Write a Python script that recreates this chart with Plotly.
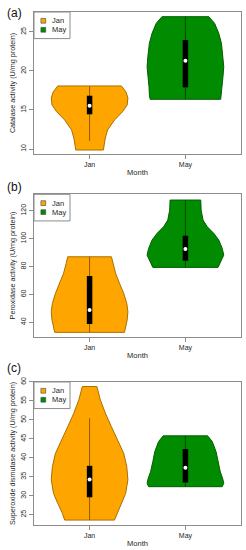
import plotly.graph_objects as go

# ---------------- data ----------------
months = ["Jan", "May"]
month_pos = [1, 2]

# (a) Catalase
cat_jan_y = [9.87, 11.41, 12.44, 13.72, 14.78, 15.64, 16.54, 17.31, 18.08]
cat_jan_dens = [0.36, 0.41, 0.47, 0.65, 0.86, 0.98, 1.0, 0.95, 0.83]
cat_may_y = [16.37, 16.92, 17.99, 19.27, 20.55, 21.83, 23.55, 24.83, 26.12, 26.96]
cat_may_dens = [0.92, 0.94, 0.95, 0.98, 1.0, 0.98, 0.94, 0.87, 0.76, 0.61]
cat_q1 = [14.45, 17.9]
cat_med = [15.55, 21.3]
cat_q3 = [16.83, 23.97]
cat_lo = [11.03, 16.37]
cat_hi = [18.04, 26.96]

# (b) Peroxidase
per_jan_y = [32.8, 37.3, 41.6, 47.6, 53.6, 60.8, 68.0, 75.1, 82.3, 87.0]
per_jan_dens = [0.91, 0.95, 0.98, 1.0, 0.97, 0.89, 0.78, 0.68, 0.61, 0.57]
per_may_y = [79.4, 83.4, 88.2, 93.0, 99.0, 103.8, 108.5, 113.3, 120.5, 127.7]
per_may_dens = [0.85, 0.92, 1.0, 0.96, 0.87, 0.74, 0.57, 0.46, 0.41, 0.40]
per_q1 = [38.8, 84.2]
per_med = [48.8, 92.5]
per_q3 = [73.2, 102.1]
per_lo = [32.8, 79.4]
per_hi = [87.0, 127.7]

# (c) Superoxide dismutase
sod_jan_y = [23.6, 25.4, 28.0, 30.6, 34.2, 37.7, 41.2, 44.7, 48.2, 51.8, 55.3, 58.8]
sod_jan_dens = [0.65, 0.71, 0.83, 0.94, 1.0, 0.97, 0.89, 0.74, 0.57, 0.41, 0.28, 0.19]
sod_may_y = [32.4, 33.3, 34.6, 36.3, 39.0, 41.6, 44.3, 45.8]
sod_may_dens = [0.96, 1.0, 0.97, 0.91, 0.85, 0.80, 0.70, 0.58]
sod_q1 = [29.6, 33.5]
sod_med = [34.3, 37.4]
sod_q3 = [37.9, 42.3]
sod_lo = [23.6, 32.4]
sod_hi = [50.4, 45.8]

y_titles = ["Catalase activity (U/mg protein)",
            "Peroxidase activity (U/mg protein)",
            "Superoxide dismutase activity (U/mg protein)"]
y_ranges = [[9.36, 27.56], [29.7, 131.8], [22.3, 60.0]]
y_ticks = [[10, 15, 20, 25], [40, 60, 80, 100, 120], [25, 30, 35, 40, 45, 50, 55, 60]]
panel_labels = ["(a)", "(b)", "(c)"]

# ---------------- styling ----------------
FILL = ["#FFA500", "#008B00"]
EDGE = ["#a87000", "#005f00"]
WHISK = ["#8a5a00", "#004a00"]
FONT = "Liberation Sans, Arial, sans-serif"
TXT = "#262626"
FRAME = "#8c8c8c"
HALF_MAX = 0.4
W, H = 246, 550
ML, MR, MT, MB = 34, 5, 12, 25
PH = H - MT - MB
PW = W - ML - MR

domains = [[0.7232, 1.0], [0.3671, 0.6446], [0.0, 0.2788]]
label_y = [0.998, 0.6589, 0.3055]

panels = [
    (cat_jan_y, cat_jan_dens, cat_may_y, cat_may_dens, cat_q1, cat_med, cat_q3, cat_lo, cat_hi),
    (per_jan_y, per_jan_dens, per_may_y, per_may_dens, per_q1, per_med, per_q3, per_lo, per_hi),
    (sod_jan_y, sod_jan_dens, sod_may_y, sod_may_dens, sod_q1, sod_med, sod_q3, sod_lo, sod_hi),
]

fig = go.Figure()
shapes = []
annotations = []

for p, (jy, jd, my, md, q1, med, q3, lo, hi) in enumerate(panels):
    sfx = "" if p == 0 else str(p + 1)
    xa, ya = "x" + sfx, "y" + sfx
    for i, (yy, dd) in enumerate([(jy, jd), (my, md)]):
        c = month_pos[i]
        xs = [c - HALF_MAX * d for d in dd] + [c + HALF_MAX * d for d in reversed(dd)]
        ys = list(yy) + list(reversed(yy))
        xs.append(xs[0]); ys.append(ys[0])
        fig.add_trace(go.Scatter(x=xs, y=ys, mode="lines", fill="toself",
                                 fillcolor=FILL[i], line=dict(color=EDGE[i], width=1),
                                 xaxis=xa, yaxis=ya, showlegend=False, hoverinfo="skip"))
        # whisker
        fig.add_trace(go.Scatter(x=[c, c], y=[lo[i], hi[i]], mode="lines",
                                 line=dict(color=WHISK[i], width=1),
                                 xaxis=xa, yaxis=ya, showlegend=False, hoverinfo="skip"))
        # inter-quartile box
        fig.add_trace(go.Scatter(x=[c, c], y=[q1[i], q3[i]], mode="lines",
                                 line=dict(color="black", width=5.5),
                                 xaxis=xa, yaxis=ya, showlegend=False, hoverinfo="skip"))
    fig.add_trace(go.Scatter(x=month_pos, y=med, mode="markers",
                             marker=dict(color="white", size=4, line=dict(width=0)),
                             xaxis=xa, yaxis=ya, showlegend=False, hoverinfo="skip"))

    axis_common = dict(showline=True, linecolor=FRAME, linewidth=1, mirror=True,
                       ticks="outside", ticklen=4, tickcolor=FRAME, tickwidth=1,
                       showgrid=False, zeroline=False, automargin=False,
                       tickfont=dict(family=FONT, size=7, color=TXT))
    fig.update_layout({
        "xaxis" + sfx: dict(axis_common, domain=[0, 1], anchor=ya,
                            range=[0.42, 2.58], tickvals=month_pos, ticktext=months,
                            title=dict(text="Month", font=dict(family=FONT, size=7.5, color=TXT),
                                       standoff=1)),
        "yaxis" + sfx: dict(axis_common, domain=domains[p], anchor=xa,
                            range=y_ranges[p], tickvals=y_ticks[p], tickangle=-90,
                            title=dict(text=y_titles[p], font=dict(family=FONT, size=7.2, color=TXT),
                                       standoff=3)),
    })

    # legend box in the top-left corner of each panel
    ph = (domains[p][1] - domains[p][0]) * PH
    xd, yd = xa + " domain", ya + " domain"
    shapes.append(dict(type="rect", xref=xd, yref=yd, x0=0, x1=36 / PW,
                       y0=1 - 26.6 / ph, y1=1, line=dict(color=FRAME, width=1),
                       fillcolor="white", layer="above"))
    for i, m in enumerate(months):
        cy = 1 - (8.8 + 9 * i) / ph
        cx = 9.3 / PW
        hs = 2.4
        shapes.append(dict(type="rect", xref=xd, yref=yd,
                           x0=cx - hs / PW, x1=cx + hs / PW,
                           y0=cy - hs / ph, y1=cy + hs / ph,
                           fillcolor=FILL[i], line=dict(color="#444444", width=0.6),
                           layer="above"))
        annotations.append(dict(xref=xd, yref=yd, x=16 / PW, y=cy, text=m,
                                showarrow=False, xanchor="left", yanchor="middle",
                                font=dict(family=FONT, size=7.5, color=TXT)))
    annotations.append(dict(xref="paper", yref="paper", x=(5 - ML) / PW, y=label_y[p],
                            text=panel_labels[p], showarrow=False, xanchor="left",
                            yanchor="middle", font=dict(family=FONT, size=12, color="#111111")))

fig.update_layout(template="none", width=W, height=H,
                  margin=dict(l=ML, r=MR, t=MT, b=MB),
                  plot_bgcolor="white", paper_bgcolor="white",
                  shapes=shapes, annotations=annotations, showlegend=False)

fig.write_html("out.html",
               config={"displayModeBar": False, "staticPlot": True},
               post_script="document.body.style.margin='0';document.body.style.padding='0';"
                           "document.body.style.overflow='hidden';")
